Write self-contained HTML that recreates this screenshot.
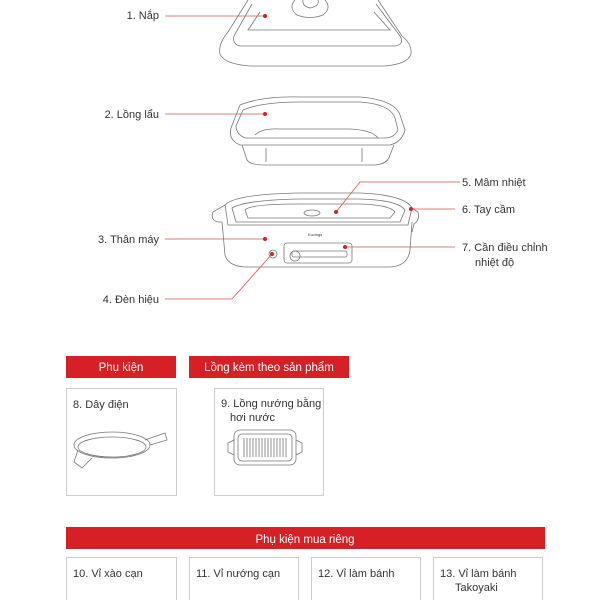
<!DOCTYPE html>
<html><head><meta charset="utf-8"><style>
body{margin:0;background:#fff;width:600px;height:600px;overflow:hidden}
svg{display:block}
text{font-family:"Liberation Sans",sans-serif;fill:#333;font-size:11px}
.w{fill:#fff;font-size:11.5px}
</style></head><body>
<svg width="600" height="600" viewBox="0 0 600 600">
<g fill="none" stroke="#777" stroke-width="0.8">
<!-- lid -->
<path d="M248 0 L228 32 Q218 44 220 54 Q224 64 250 66 L385 66 Q408 64 411 54 Q412 44 402 36 L378 0"/>
<path d="M252 4 L234 36 Q232 44 240 46 L395 46 Q405 44 400 36 L376 4"/>
<path d="M260 12 L248 30 L390 30 L374 12"/>
<path d="M295 0 Q288 8 297 15 Q310 20 323 15 Q332 8 325 0"/>
<path d="M303 0 Q302 6 310 8 Q320 6 318 0"/>
<!-- liner -->
<path d="M240 105 Q262 96 300 97 L360 97 Q395 100 400 115 L405 130 Q402 142 390 145 L240 145 Q228 140 231 128 Z"/>
<path d="M243 110 Q262 102 300 102 L360 102 Q390 104 395 118 L398 130 Q394 138 385 138 L245 138 Q236 134 236 126 Z"/>
<path d="M255 135 Q262 128 280 129 L350 129 Q372 130 378 138"/>
<path d="M242 145 L247 160 Q250 165 265 165 L375 165 Q388 164 390 155 L394 145"/>
<path d="M266 148 L266 162 M362 148 L362 162"/>
<!-- body -->
<path d="M225 205 Q235 194 300 193 L360 193 Q405 195 412 208 L408 225 L228 225 Z"/>
<path d="M232 208 Q245 200 300 199 L360 199 Q398 200 405 210 L400 222 L236 222 Z"/>
<path d="M245 210 Q250 204 300 204 L360 204 Q390 205 395 212 L390 218 L248 218 Z"/>
<path d="M225 205 L213 212 Q210 220 218 222 L222 222"/>
<path d="M412 208 L418 212 Q420 220 414 224 L412 232"/>
<path d="M222 222 L225 255 Q228 266 245 267 L390 267 Q408 266 410 250 L412 222"/>
<ellipse cx="312" cy="213" rx="8" ry="3"/>
<rect x="284" y="243" width="68" height="20" rx="3"/>
<rect x="292" y="251" width="55" height="6" rx="2"/>
<circle cx="295" cy="256" r="5"/>
<circle cx="273" cy="254" r="4"/>
<!-- cord -->
<ellipse cx="112" cy="445" rx="38" ry="13"/>
<ellipse cx="112" cy="447" rx="34" ry="10"/>
<path d="M145 440 L165 433 L167 440 L150 445"/>
<path d="M78 450 L74 462 L82 468 L92 458"/>
<!-- grill -->
<rect x="234" y="430" width="62" height="35" rx="6"/>
<rect x="238" y="434" width="54" height="27" rx="4"/>
<path d="M234 440 L228 443 L228 452 L234 455 M296 440 L302 443 L302 452 L296 455"/>
<path d="M244 438 V457 M247 438 V457 M250 438 V457 M253 438 V457 M256 438 V457 M259 438 V457 M262 438 V457 M265 438 V457 M268 438 V457 M271 438 V457 M274 438 V457 M277 438 V457 M280 438 V457 M283 438 V457 M286 438 V457"/>
</g>
<text x="308" y="236" style="font-size:4px">Kuvings</text>
<!-- leader lines -->
<g stroke="#d9534f" stroke-width="0.8" fill="none">
<path d="M165 16 H265 M165 114 H265 M165 239 H265 M165 299 H232 L272 254 M460 182 H360 L336 212 M411 209 H455 M345 247 H455"/>
</g>
<g fill="#d71f26">
<circle cx="265" cy="16" r="2"/><circle cx="265" cy="114" r="2"/><circle cx="265" cy="239" r="2"/>
<circle cx="272" cy="254" r="2"/><circle cx="336" cy="212" r="2"/><circle cx="411" cy="209" r="2"/><circle cx="345" cy="247" r="2"/>
</g>
<text x="159" y="19" text-anchor="end">1. Nắp</text>
<text x="159" y="118" text-anchor="end">2.  Lồng lẩu</text>
<text x="159" y="243" text-anchor="end">3. Thân máy</text>
<text x="159" y="303" text-anchor="end">4. Đèn hiệu</text>
<text x="462" y="186">5. Mâm nhiệt</text>
<text x="462" y="213">6. Tay cầm</text>
<text x="462" y="251">7. Cần điều chỉnh</text>
<text x="475" y="266">nhiệt độ</text>
<!-- headers -->
<rect x="66" y="356" width="110" height="22" fill="#d71f26"/>
<text class="w" x="121" y="371" text-anchor="middle">Phụ kiện</text>
<rect x="189" y="356" width="160" height="22" fill="#d71f26"/>
<text class="w" x="269" y="371" text-anchor="middle">Lồng kèm theo sản phẩm</text>
<g fill="none" stroke="#ccc" stroke-width="1">
<rect x="66.5" y="388.5" width="110" height="107"/>
<rect x="214.5" y="388.5" width="109" height="107"/>
<rect x="66.5" y="557.5" width="110" height="50"/>
<rect x="189.5" y="557.5" width="109" height="50"/>
<rect x="311.5" y="557.5" width="109" height="50"/>
<rect x="433.5" y="557.5" width="109" height="50"/>
</g>
<text x="73" y="408">8. Dây điện</text>
<text x="221" y="407">9. Lồng nướng bằng</text>
<text x="230" y="421">hơi nước</text>
<rect x="66" y="527" width="479" height="22" fill="#d71f26"/>
<text class="w" x="305" y="543" text-anchor="middle">Phụ kiện mua riêng</text>
<text x="73" y="577">10. Vỉ xào cạn</text>
<text x="196" y="577">11. Vỉ nướng cạn</text>
<text x="318" y="577">12. Vỉ làm bánh</text>
<text x="440" y="577">13. Vỉ làm bánh</text>
<text x="455" y="591">Takoyaki</text>
</svg>
</body></html>
